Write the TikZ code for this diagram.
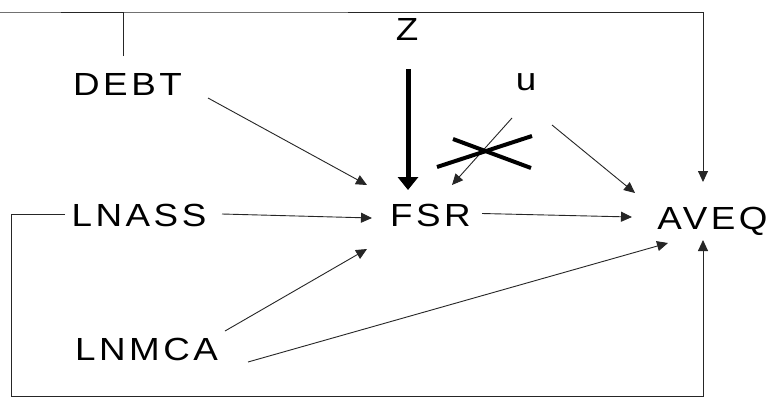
\documentclass[tikz,border=0pt]{standalone}
\usepackage{fontspec}
\setmainfont{Liberation Sans}[FakeStretch=1.15,LetterSpace=11]
\usetikzlibrary{arrows.meta}
\begin{document}
\begin{tikzpicture}[x=1pt,y=-1pt,
  lbl/.style={inner sep=0pt,text height=23pt,text depth=0pt,font=\fontsize{32}{38}\selectfont},
  thin/.style={line width=0.9pt,draw=black!85},
  arr/.style={thin,-{Triangle[length=11pt,width=10pt]}},
  bigarr/.style={line width=5pt,-{Triangle[length=13pt,width=20pt]}},
  cross/.style={line width=4pt,line cap=butt}]
\useasboundingbox (0,0) rectangle (768,397);
\fill[white] (0,0) rectangle (768,397);
\node[lbl] (debt) at (127.5,83.5) {DEBT};
\node[lbl] (z) at (407,29) {Z};
\node[lbl,text height=16pt] (u) at (526,82) {u};
\node[lbl] (fsr) at (430.5,214.5) {FSR};
\node[lbl] (aveq) at (712.5,217.5) {AVEQ};
\node[lbl] (lnass) at (139,214.5) {LNASS};
\node[lbl] (lnmca) at (146.5,349) {LNMCA};
% DEBT top loop to AVEQ
\draw[arr] ([shift={(-4.5,-27.5)}]debt.center) |- (0,12) -| ([shift={(-9.5,-35.5)}]aveq.center);
% LNASS bottom loop to AVEQ
\draw[arr] ([shift={(-74,-0.5)}]lnass.center) -| (11,396) -| ([shift={(-9.5,22.5)}]aveq.center);
% arrows into FSR
\draw[arr] ([shift={(80.5,14.5)}]debt.center) -- ([shift={(-63.5,-29.5)}]fsr.center);
\draw[bigarr] ([shift={(1,40)}]z.center) -- ([shift={(-22.5,-24.5)}]fsr.center);
\draw[arr] ([shift={(-14,36)}]u.center) -- ([shift={(21.5,-29.5)}]fsr.center);
\draw[arr] ([shift={(83,-0.5)}]lnass.center) -- ([shift={(-58.5,3.5)}]fsr.center);
\draw[arr] ([shift={(78.5,-18)}]lnmca.center) -- ([shift={(-63.5,34.5)}]fsr.center);
% arrows into AVEQ
\draw[arr] ([shift={(26,43)}]u.center) -- ([shift={(-77.5,-24.5)}]aveq.center);
\draw[arr] ([shift={(51.5,-1)}]fsr.center) -- ([shift={(-80.5,-0.5)}]aveq.center);
\draw[arr] ([shift={(101.5,13)}]lnmca.center) -- ([shift={(-44.5,25.5)}]aveq.center);
% cross mark
\draw[cross] (453,139) -- (531,168);
\draw[cross] (437,167) -- (532,136);
\end{tikzpicture}
\end{document}
